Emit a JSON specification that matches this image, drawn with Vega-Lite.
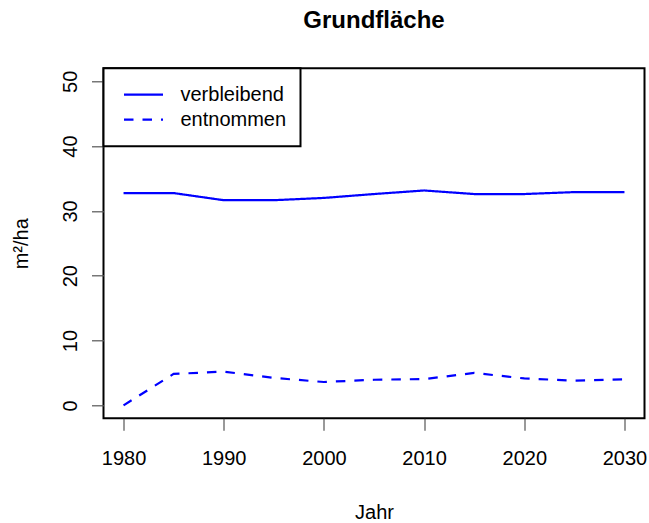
{
  "$schema": "https://vega.github.io/schema/vega-lite/v6.json",
  "autosize": "none",
  "width": 541,
  "height": 350,
  "padding": {"left": 103.5, "top": 68.3, "right": 4.5, "bottom": 104.7},
  "background": "white",
  "title": {"text": "Grundfläche", "font": "Liberation Sans", "fontSize": 24, "fontWeight": "bold", "color": "black", "anchor": "middle", "baseline": "alphabetic", "offset": 15},
  "data": {"values": [
    {"Jahr": 1980, "wert": 32.75, "serie": "verbleibend"},
    {"Jahr": 1985, "wert": 32.75, "serie": "verbleibend"},
    {"Jahr": 1990, "wert": 31.65, "serie": "verbleibend"},
    {"Jahr": 1995, "wert": 31.65, "serie": "verbleibend"},
    {"Jahr": 2000, "wert": 32.0, "serie": "verbleibend"},
    {"Jahr": 2005, "wert": 32.6, "serie": "verbleibend"},
    {"Jahr": 2010, "wert": 33.15, "serie": "verbleibend"},
    {"Jahr": 2015, "wert": 32.6, "serie": "verbleibend"},
    {"Jahr": 2020, "wert": 32.6, "serie": "verbleibend"},
    {"Jahr": 2025, "wert": 32.9, "serie": "verbleibend"},
    {"Jahr": 2030, "wert": 32.9, "serie": "verbleibend"},
    {"Jahr": 1980, "wert": 0.0, "serie": "entnommen"},
    {"Jahr": 1985, "wert": 4.85, "serie": "entnommen"},
    {"Jahr": 1990, "wert": 5.2, "serie": "entnommen"},
    {"Jahr": 1995, "wert": 4.23, "serie": "entnommen"},
    {"Jahr": 2000, "wert": 3.6, "serie": "entnommen"},
    {"Jahr": 2005, "wert": 3.95, "serie": "entnommen"},
    {"Jahr": 2010, "wert": 4.05, "serie": "entnommen"},
    {"Jahr": 2015, "wert": 5.0, "serie": "entnommen"},
    {"Jahr": 2020, "wert": 4.15, "serie": "entnommen"},
    {"Jahr": 2025, "wert": 3.8, "serie": "entnommen"},
    {"Jahr": 2030, "wert": 4.0, "serie": "entnommen"}
  ]},
  "mark": {"type": "line", "color": "#0000FF", "strokeWidth": 2.2},
  "encoding": {
    "x": {
      "field": "Jahr", "type": "quantitative",
      "scale": {"domain": [1978, 2032], "nice": false, "zero": false},
      "axis": {"values": [1980, 1990, 2000, 2010, 2020, 2030], "format": "d", "title": "Jahr", "grid": false, "domain": false,
        "tickSize": 12, "tickColor": "#555555", "tickWidth": 1.2,
        "labelFont": "Liberation Sans", "labelFontSize": 20, "labelColor": "black", "labelPadding": 28, "labelBaseline": "middle", "labelFlush": false,
        "titleFont": "Liberation Sans", "titleFontSize": 20, "titleFontWeight": "normal", "titleColor": "black", "titlePadding": 34}
    },
    "y": {
      "field": "wert", "type": "quantitative",
      "scale": {"domain": [-2, 52], "nice": false, "zero": false},
      "axis": {"values": [0, 10, 20, 30, 40, 50], "title": "m²/ha", "grid": false, "domain": false,
        "tickSize": 12, "tickColor": "#555555", "tickWidth": 1.2,
        "labelFont": "Liberation Sans", "labelFontSize": 20, "labelColor": "black", "labelAngle": -90, "labelAlign": "center", "labelBaseline": "middle", "labelPadding": 21, "labelFlush": false,
        "titleFont": "Liberation Sans", "titleFontSize": 20, "titleFontWeight": "normal", "titleColor": "black", "titlePadding": 29}
    },
    "strokeDash": {
      "field": "serie", "type": "nominal",
      "scale": {"domain": ["verbleibend", "entnommen"], "range": [[1, 0], [9.5, 9]]},
      "legend": {"title": null, "orient": "top-left", "offset": 0, "padding": 14, "symbolOffset": 5, "strokeColor": "black", "fillColor": "white",
        "symbolType": "stroke", "symbolSize": 1521, "symbolStrokeWidth": 2.2, "symbolStrokeColor": "#0000FF",
        "clipHeight": 24.5, "rowPadding": 0,
        "labelFont": "Liberation Sans", "labelFontSize": 20, "labelColor": "black", "labelOffset": 16}
    }
  },
  "config": {
    "view": {"stroke": "black", "strokeWidth": 2},
    "legend": {"strokeWidth": 2}
  }
}
